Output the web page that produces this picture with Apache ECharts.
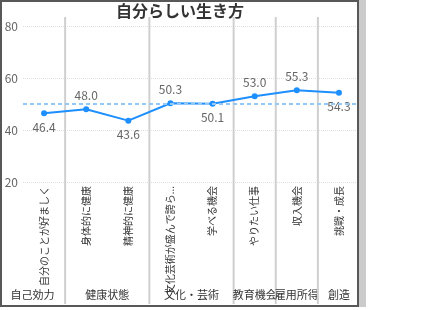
<!DOCTYPE html>
<html>
<head>
<meta charset="utf-8">
<script src="https://cdn.jsdelivr.net/npm/echarts@6.0.0/dist/echarts.min.js"></script>
<style>
  html, body { margin: 0; padding: 0; background: #fff; }
  #chartMain { position: absolute; left: 0; top: 0; width: 360px; height: 306px; }
  #frame { position: absolute; left: 0; top: 0; width: 359px; height: 307px; box-sizing: border-box;
           border: 2px solid #585858; pointer-events: none; }
  #strip { position: absolute; left: 359px; top: 0; width: 7px; height: 307px; background: #cbcbcb; }
</style>
</head>
<body>
<div id="chartMain"></div>
<div id="frame"></div>
<div id="strip"></div>
<script>
// datos del grafico
var categorias = ["自分のことが好ましく", "身体的に健康", "精神的に健康", "文化芸術が盛んで誇ら...",
                  "学べる機会", "やりたい仕事", "収入機会", "挑戦・成長"];
var valores = [46.4, 48.0, 43.6, 50.3, 50.1, 53.0, 55.3, 54.3];
var grupos = ["自己効力", "健康状態", "文化・芸術", "教育機会", "雇用所得", "創造"];
var tamGrupos = [1, 2, 2, 1, 1, 1];
var ejeY = [20, 40, 60, 80];
var promedio = 50;

// posicion de las etiquetas de valor
var posEtiqueta = ["bottom", "top", "bottom", "top", "bottom", "top", "top", "bottom"];

// rangos de cada grupo (indice inicial y final)
var datosGrupos = [];
var ini = 0;
for (var i = 0; i < tamGrupos.length; i++) {
  datosGrupos.push([ini, ini + tamGrupos[i] - 1, ejeY[0]]);
  ini += tamGrupos[i];
}

var fuente = '"Noto Sans CJK JP", "Noto Sans", sans-serif';

var option = {
  animation: false,
  title: {
    text: "自分らしい生き方",
    left: "center",
    top: 3,
    padding: 0,
    textStyle: { fontSize: 16, fontWeight: "bold", color: "#333", fontFamily: fuente },
  },
  grid: { left: 23, right: 0, top: 26, bottom: 124 },
  xAxis: {
    type: "category",
    data: categorias,
    boundaryGap: true,
    axisLine: { show: false },
    axisTick: { show: false },
    splitLine: { show: false },
    axisLabel: {
      interval: 0,
      rotate: 90,
      margin: 4,
      fontSize: 10,
      color: "#333",
      fontFamily: fuente,
    },
  },
  yAxis: {
    type: "value",
    min: ejeY[0],
    max: ejeY[ejeY.length - 1],
    interval: 20,
    axisLine: { show: false },
    axisTick: { show: false },
    axisLabel: { fontSize: 12, color: "#666", margin: 5, fontFamily: fuente },
    splitLine: { lineStyle: { type: "dotted", color: "#dedede" } },
  },
  series: [
    {
      //separadores y nombres de grupo
      type: "custom",
      z: 1,
      silent: true,
      encode: { x: [0, 1], y: 2 },
      data: datosGrupos,
      renderItem: function (params, api) {
        var cs = params.coordSys;
        var bw = api.size([1, 0])[0];
        var x0 = api.coord([api.value(0), ejeY[0]])[0] - bw / 2;
        var x1 = api.coord([api.value(1), ejeY[0]])[0] + bw / 2;
        var izq = params.dataIndex === 0 ? 0 : x0;
        var hijos = [];
        if (params.dataIndex > 0) {
          hijos.push({
            type: "line",
            shape: { x1: x0, y1: cs.y - 9, x2: x0, y2: cs.y + cs.height + 122 },
            style: { stroke: "#cfcfcf", lineWidth: 2 },
          });
        }
        hijos.push({
          type: "text",
          style: {
            text: grupos[params.dataIndex],
            x: (izq + x1) / 2,
            y: cs.y + cs.height + 113,
            align: "center",
            verticalAlign: "middle",
            fill: "#333",
            font: "11px " + fuente,
          },
        });
        return { type: "group", children: hijos };
      },
    },
    {
      type: "line",
      z: 3,
      data: valores.map(function (v, i) {
        return { value: v, label: { position: posEtiqueta[i] } };
      }),
      symbol: "circle",
      symbolSize: 6,
      itemStyle: { color: "#1e8fff" },
      lineStyle: { color: "#1e8fff", width: 2 },
      label: {
        show: true,
        fontSize: 12,
        color: "#666",
        distance: 5,
        fontFamily: fuente,
        formatter: function (p) { return p.value.toFixed(1); },
      },
      markLine: {
        silent: true,
        symbol: "none",
        label: { show: false },
        lineStyle: { type: [4, 3], color: "#93c8f7", width: 2 },
        data: [{ yAxis: promedio }],
      },
    },
  ],
};

var chartDom = document.getElementById("chartMain");
var myChart = echarts.init(chartDom);
myChart.setOption(option);
</script>
</body>
</html>
